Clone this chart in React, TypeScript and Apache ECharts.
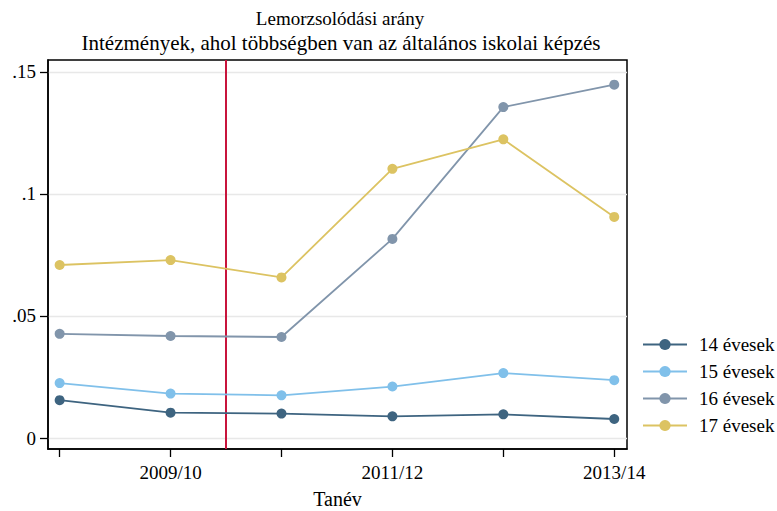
import React, { useEffect, useRef } from "react";
import * as echarts from "echarts";

const categories = ["2008/09", "2009/10", "2010/11", "2011/12", "2012/13", "2013/14"];
const labelledCategories = ["2009/10", "2011/12", "2013/14"];
const seriesNames = ["14 évesek", "15 évesek", "16 évesek", "17 évesek"];
const age14 = [0.0155, 0.0104, 0.0100, 0.0089, 0.0097, 0.0078];
const age15 = [0.0225, 0.0182, 0.0175, 0.0211, 0.0266, 0.0237];
const age16 = [0.0427, 0.0418, 0.0414, 0.0816, 0.1356, 0.1448];
const age17 = [0.0709, 0.0729, 0.0658, 0.1103, 0.1224, 0.0906];
const yTicks = [0, 0.05, 0.1, 0.15];
const reformPosition = 1.5;
const titleText = "Lemorzsolódási arány";
const subtitleText = "Intézmények, ahol többségben van az általános iskolai képzés";
const xAxisName = "Tanév";

const colors = ["#3e6480", "#80c0ea", "#8195ab", "#dcc362"];
const FONT = "'Liberation Serif', 'Times New Roman', serif";

export default function App() {
  const ref = useRef<HTMLDivElement>(null);
  useEffect(() => {
    if (!ref.current) return;
    const chart = echarts.init(ref.current, null, { renderer: "svg" });
    const allData = [age14, age15, age16, age17];
    const tickIdx = categories.map((_, i) => i);
    const labelIdx = labelledCategories.map((c) => categories.indexOf(c));
    const series: any[] = allData.map((vals, si) => ({
      name: seriesNames[si],
      type: "line",
      data: vals.map((v, i) => [i, v]),
      symbol: "circle",
      symbolSize: 10,
      lineStyle: { width: 1.8, color: colors[si] },
      itemStyle: { color: colors[si] },
      z: 3 + si,
    }));
    series[0].markLine = {
      silent: true,
      symbol: "none",
      label: { show: false },
      lineStyle: { color: "#c8143c", width: 2, type: "solid" },
      data: [{ xAxis: reformPosition }],
      z: 2,
    };
    chart.setOption({
      animation: false,
      backgroundColor: "#ffffff",
      textStyle: { fontFamily: FONT },
      graphic: [
        {
          type: "text",
          x: 340,
          y: 18,
          style: {
            text: titleText,
            textAlign: "center",
            textVerticalAlign: "middle",
            font: `19px ${FONT}`,
            fill: "#000",
          },
        },
        {
          type: "text",
          x: 341,
          y: 43,
          style: {
            text: subtitleText,
            textAlign: "center",
            textVerticalAlign: "middle",
            font: `21px ${FONT}`,
            fill: "#000",
          },
        },
      ],
      grid: {
        left: 48,
        top: 60,
        width: 579,
        height: 389,
        containLabel: false,
        outerBoundsMode: "none",
        show: true,
        borderColor: "#000",
        borderWidth: 1.5,
        backgroundColor: "transparent",
      },
      legend: {
        orient: "vertical",
        left: 637,
        top: 330,
        itemWidth: 44,
        itemHeight: 14,
        itemGap: 8,
        data: seriesNames,
        textStyle: { fontSize: 19, color: "#000", fontFamily: FONT, padding: [0, 0, 0, 7] },
      },
      xAxis: {
        type: "value",
        min: -0.105,
        max: 5.115,
        name: xAxisName,
        nameLocation: "middle",
        nameGap: 40,
        nameTextStyle: { fontSize: 20, color: "#000", fontFamily: FONT },
        axisLine: { show: true, onZero: false, lineStyle: { color: "#000", width: 1.5 } },
        axisTick: { show: true, length: 8, customValues: tickIdx, lineStyle: { color: "#000", width: 1.3 } },
        axisLabel: {
          customValues: labelIdx,
          formatter: (v: number) => categories[Math.round(v)] || "",
          fontSize: 19,
          color: "#000",
          fontFamily: FONT,
          margin: 14,
        },
        splitLine: { show: false },
      },
      yAxis: {
        type: "value",
        min: -0.0045,
        max: 0.1549,
        axisLine: { show: true, onZero: false, lineStyle: { color: "#000", width: 1.5 } },
        axisTick: { show: true, length: 8, customValues: yTicks, lineStyle: { color: "#000", width: 1.3 } },
        axisLabel: {
          customValues: yTicks,
          formatter: (v: number) => (v === 0 ? "0" : String(v).replace(/^0/, "")),
          fontSize: 19,
          color: "#000",
          fontFamily: FONT,
          margin: 12,
        },
        splitLine: { show: true, lineStyle: { color: "#e8e8e8", width: 1.3 } },
      },
      series,
    });
    return () => chart.dispose();
  }, []);
  return (
    <div
      ref={ref}
      style={{ position: "fixed", left: 0, top: 0, width: 777, height: 511, background: "#fff" }}
    />
  );
}
